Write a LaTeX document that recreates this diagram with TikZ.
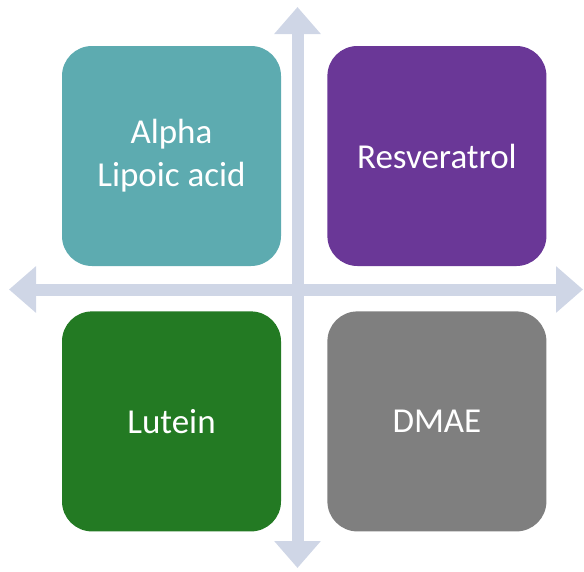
\documentclass[tikz,border=0pt]{standalone}
\usepackage{fontspec}
\setmainfont{Carlito}
\usetikzlibrary{arrows.meta,positioning}
\definecolor{tealbox}{HTML}{5DABB0}
\definecolor{purplebox}{HTML}{6A3797}
\definecolor{greenbox}{HTML}{237A23}
\definecolor{graybox}{HTML}{7F7F7F}
\definecolor{axisgray}{HTML}{CFD6E6}

\begin{document}
\begin{tikzpicture}[
  x=1pt, y=-1pt,
  box/.style={rounded corners=30pt, minimum width=219pt, minimum height=220pt, align=center, text=white, inner sep=0pt, font=\fontsize{35}{43}\selectfont},
  axis/.style={{Triangle[width=45pt,length=27pt]}-{Triangle[width=45pt,length=27pt]}, line width=12pt, draw=axisgray}]
  \useasboundingbox (0,0) rectangle (584,571);
  \coordinate (top) at (297.5,7);
  \coordinate (bottom) at (297.5,568);
  \coordinate (left) at (9,289.5);
  \coordinate (right) at (583,289.5);
  \draw[axis] (left) -- (right);
  \draw[axis] (top) -- (bottom);
  \node[box, fill=tealbox] (alpha) at (171.5,156) {Alpha\\Lipoic acid};
  \node[box, fill=purplebox, right=46pt of alpha] (resv) {Resveratrol};
  \node[box, fill=greenbox, below=45pt of alpha] (lutein) {Lutein};
  \node[box, fill=graybox, right=46pt of lutein] (dmae) {DMAE};
\end{tikzpicture}
\end{document}
